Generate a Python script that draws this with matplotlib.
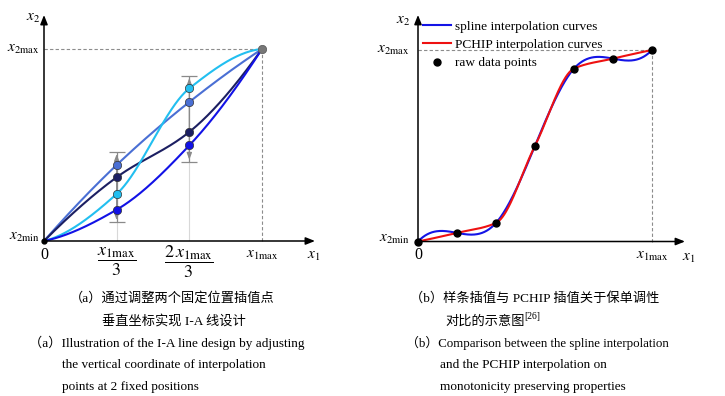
"""
I-A 线设计示意图 + 样条/PCHIP 对比
"""
import numpy as np
import matplotlib
matplotlib.use('Agg')
import matplotlib.pyplot as plt
from matplotlib.lines import Line2D

plt.rcParams['font.family'] = ['Liberation Serif', 'Noto Sans CJK SC']
plt.rcParams['mathtext.fontset'] = 'stix'

W, H = 725, 396

# (a) 两个固定位置上的插值点
knot_x = [0, 1/3, 2/3, 1]
curve_mid = [0, 0.396, 0.724, 1]
curve_navy = [0, 0.332, 0.568, 1]
curve_cyan = [0, 0.245, 0.795, 1]
curve_blue = [0, 0.163, 0.498, 1]
curve_colors = ['#4a6fd4', '#1c1f62', '#22bff0', '#1212e6']

range_x = [1/3, 2/3]
range_lo = [0.097, 0.411]
range_hi = [0.465, 0.861]

# (b) 原始数据点
raw_x = [0, 1/6, 2/6, 3/6, 4/6, 5/6, 1]
raw_y = [0, 0.045, 0.097, 0.5, 0.903, 0.955, 1]


def pchip(x, y, xs):
    x = np.asarray(x, float); y = np.asarray(y, float)
    h = np.diff(x); d = np.diff(y) / h
    n = len(x)
    m = np.zeros(n)
    for k in range(1, n - 1):
        if d[k - 1] * d[k] > 0:
            w1 = 2 * h[k] + h[k - 1]
            w2 = h[k] + 2 * h[k - 1]
            m[k] = (w1 + w2) / (w1 / d[k - 1] + w2 / d[k])

    def end(h0, h1, d0, d1):
        s = ((2 * h0 + h1) * d0 - h0 * d1) / (h0 + h1)
        if np.sign(s) != np.sign(d0):
            s = 0
        elif np.sign(d0) != np.sign(d1) and abs(s) > abs(3 * d0):
            s = 3 * d0
        return s
    m[0] = end(h[0], h[1], d[0], d[1])
    m[-1] = end(h[-1], h[-2], d[-1], d[-2])
    i = np.clip(np.searchsorted(x, xs) - 1, 0, n - 2)
    t = (xs - x[i]) / h[i]
    h00 = 2 * t**3 - 3 * t**2 + 1
    h10 = t**3 - 2 * t**2 + t
    h01 = -2 * t**3 + 3 * t**2
    h11 = t**3 - t**2
    return h00 * y[i] + h10 * h[i] * m[i] + h01 * y[i + 1] + h11 * h[i] * m[i + 1]


def spline(x, y, xs):
    # not-a-knot cubic spline
    x = np.asarray(x, float); y = np.asarray(y, float)
    n = len(x)
    h = np.diff(x); d = np.diff(y) / h
    A = np.zeros((n, n)); b = np.zeros(n)
    A[0, 0:3] = [h[1], -(h[0] + h[1]), h[0]]
    for i in range(1, n - 1):
        A[i, i - 1] = h[i - 1]
        A[i, i] = 2 * (h[i - 1] + h[i])
        A[i, i + 1] = h[i]
        b[i] = 6 * (d[i] - d[i - 1])
    A[-1, -3:] = [h[-1], -(h[-2] + h[-1]), h[-2]]
    M = np.linalg.solve(A, b)
    i = np.clip(np.searchsorted(x, xs) - 1, 0, n - 2)
    hi = h[i]
    a = x[i + 1] - xs; c = xs - x[i]
    return (M[i] * a**3 / (6 * hi) + M[i + 1] * c**3 / (6 * hi)
            + (y[i] / hi - M[i] * hi / 6) * a + (y[i + 1] / hi - M[i + 1] * hi / 6) * c)


def panel(x0, x1, y0, y1):
    ax = fig.add_axes([x0 / W, 1 - y0 / H, (x1 - x0) / W, (y0 - y1) / H])
    ax.set_xlim(0, 1)
    ax.set_ylim(0, 1)
    ax.axis('off')
    return ax


def axes_arrows(ax, xend, yend):
    ap = dict(arrowstyle='-|>,head_length=0.55,head_width=0.22', color='black', lw=1.1,
              shrinkA=0, shrinkB=0)
    ax.annotate('', xy=(xend, 0), xytext=(0, 0), arrowprops=ap, annotation_clip=False)
    ax.annotate('', xy=(0, yend), xytext=(0, 0), arrowprops=ap, annotation_clip=False)


fig = plt.figure(figsize=(W / 100, H / 100), dpi=100)
xs = np.linspace(0, 1, 400)
fs = 11
dash = dict(color='#8c8c8c', lw=0.8, ls=(0, (3, 2)), clip_on=False)

# ---------- (a) ----------
ax1 = panel(44, 262, 241, 49)
ax1.plot([0, 1], [1, 1], **dash)
ax1.plot([1, 1], [0, 1], **dash)
for xr, lo in zip(range_x, range_lo):
    ax1.plot([xr, xr], [0, lo], color='#d8d8d8', lw=0.8)
ax1.errorbar(range_x, (np.array(range_lo) + np.array(range_hi)) / 2,
             yerr=(np.array(range_hi) - np.array(range_lo)) / 2,
             fmt='none', ecolor='#8a8a8a', elinewidth=0.9, capsize=6, capthick=0.9)
for xr, lo, hi in zip(range_x, range_lo, range_hi):
    ax1.annotate('', xy=(xr, hi - 0.012), xytext=(xr, lo + 0.012),
                 arrowprops=dict(arrowstyle='<|-|>,head_length=0.4,head_width=0.15',
                                 color='#8a8a8a', lw=0.9, shrinkA=0, shrinkB=0))

for cy, col in zip([curve_mid, curve_navy, curve_cyan, curve_blue], curve_colors):
    ax1.plot(xs, pchip(knot_x, cy, xs), color=col, lw=1.5, clip_on=False)
for cy, col in zip([curve_mid, curve_navy, curve_cyan, curve_blue], curve_colors):
    ax1.plot(knot_x[1:3], cy[1:3], 'o', ms=6, mfc=col, mec='#333333', mew=0.5,
             clip_on=False, zorder=5)
ax1.plot([1], [1], 'o', ms=6, mfc='#777777', mec='#555555', mew=0.5, clip_on=False, zorder=5)
ax1.plot([0], [0], 'o', ms=3.5, color='black', clip_on=False, zorder=5)
axes_arrows(ax1, 1.243, 1.177)

ax1.text(-0.05, 1.16, r'$x_2$', fontsize=fs, ha='center', va='center')
ax1.text(-0.02, 1.0, r'$x_{2\mathrm{max}}$', fontsize=fs, ha='right', va='center')
ax1.text(-0.02, 0.02, r'$x_{2\mathrm{min}}$', fontsize=fs, ha='right', va='center')
ax1.text(0, -0.075, '0', fontsize=fs + 0.5, ha='center', va='center')
ax1.text(1/3, -0.11, r'$\dfrac{x_{1\mathrm{max}}}{3}$', fontsize=13, ha='center', va='center')
ax1.text(2/3, -0.11, r'$\dfrac{2\,x_{1\mathrm{max}}}{3}$', fontsize=13, ha='center', va='center')
ax1.text(1, -0.075, r'$x_{1\mathrm{max}}$', fontsize=fs, ha='center', va='center')
ax1.text(1.235, -0.08, r'$x_1$', fontsize=fs, ha='center', va='center')

# ---------- (b) ----------
ax2 = panel(418, 652, 241.5, 50)
ax2.plot([0, 1], [1, 1], **dash)
ax2.plot([1, 1], [0, 1], **dash)
l1, = ax2.plot(xs, spline(raw_x, raw_y, xs), color='#1414e6', lw=1.5, clip_on=False)
l2, = ax2.plot(xs, pchip(raw_x, raw_y, xs), color='#ee1111', lw=1.5, clip_on=False)
ax2.plot(raw_x, raw_y, 'o', ms=5, color='black', clip_on=False, zorder=5)
axes_arrows(ax2, 1.141, 1.183)

ax2.text(-0.064, 1.15, r'$x_2$', fontsize=fs, ha='center', va='center')
ax2.text(-0.035, 1.0, r'$x_{2\mathrm{max}}$', fontsize=fs, ha='right', va='center')
ax2.text(-0.035, 0.01, r'$x_{2\mathrm{min}}$', fontsize=fs, ha='right', va='center')
ax2.text(0, -0.07, '0', fontsize=fs + 0.5, ha='center', va='center')
ax2.text(1, -0.08, r'$x_{1\mathrm{max}}$', fontsize=fs, ha='center', va='center')
ax2.text(1.155, -0.087, r'$x_1$', fontsize=fs, ha='center', va='center')

dots = Line2D([], [], ls='none', marker='o', ms=5, color='black')
ax2.legend([l1, l2, dots],
           ['spline interpolation curves', 'PCHIP interpolation curves', 'raw data points'],
           loc='upper left', bbox_to_anchor=(0.021, 1.155), frameon=False, fontsize=9.6,
           borderpad=0, borderaxespad=0, handlelength=2.1, handletextpad=0.3,
           labelspacing=0.45)

# ---------- 图注 ----------
cap = 9.5
fig.text(70 / W, 1 - 298 / H, '（a）通过调整两个固定位置插值点', fontsize=cap, va='center')
fig.text(102 / W, 1 - 322 / H, '垂直坐标实现 I-A 线设计', fontsize=cap, va='center')
fig.text(29 / W, 1 - 343 / H, '（a）Illustration of the I-A line design by adjusting',
         fontsize=cap, va='center')
fig.text(62 / W, 1 - 365 / H, 'the vertical coordinate of interpolation', fontsize=cap, va='center')
fig.text(62 / W, 1 - 387 / H, 'points at 2 fixed positions', fontsize=cap, va='center')

fig.text(410 / W, 1 - 298 / H, '（b）样条插值与 PCHIP 插值关于保单调性', fontsize=cap, va='center')
t = fig.text(445 / W, 1 - 322 / H, '对比的示意图', fontsize=cap, va='center')
fig.text(406 / W, 1 - 343 / H, '（b）Comparison between the spline interpolation',
         fontsize=cap - 0.2, va='center')
fig.text(440 / W, 1 - 365 / H, 'and the PCHIP interpolation on', fontsize=cap, va='center')
fig.text(440 / W, 1 - 387 / H, 'monotonicity preserving properties', fontsize=cap, va='center')
ax2.annotate('[26]', xy=(1, 0.55), xycoords=t, fontsize=7, ha='left', va='bottom',
             annotation_clip=False)

fig.savefig('out.png', dpi=100)
print('Saved: out.png')
